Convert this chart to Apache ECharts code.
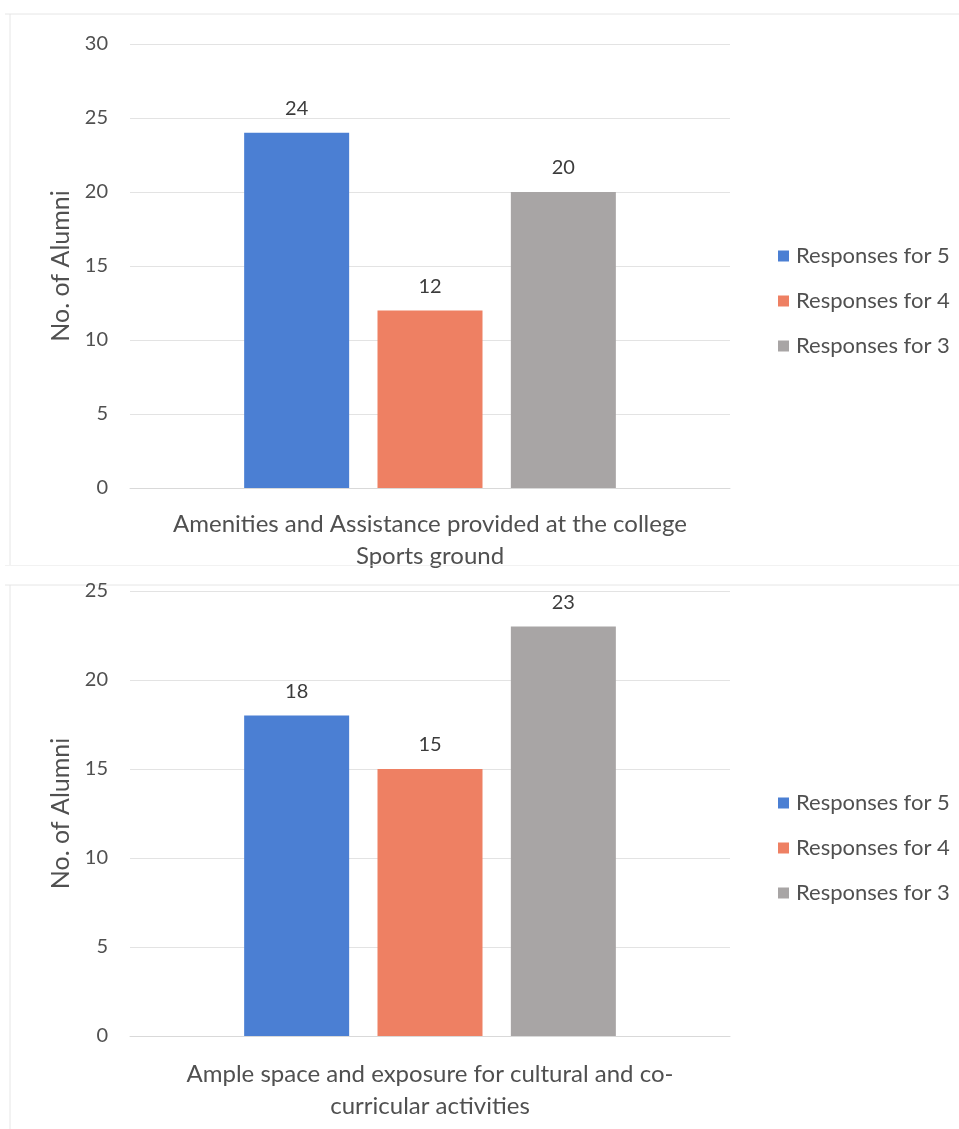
<!DOCTYPE html>
<html><head><meta charset="utf-8">
<script src="https://cdn.jsdelivr.net/npm/echarts@6/dist/echarts.min.js"></script>
<style>html,body{margin:0;padding:0;background:#fff;}#c1{position:absolute;left:0;top:0;width:959px;height:580px;}#c2{position:absolute;left:0;top:565px;width:959px;height:564px;}</style>
</head><body>
<div id="c1"></div><div id="c2"></div>
<script>
const seriesNames = ['Responses for 5', 'Responses for 4', 'Responses for 3'];
const colors = ['#4b7fd3', '#ee8063', '#a8a5a5'];
const chart1Category = ['Amenities and Assistance provided at the college\nSports ground'];
const chart1Values = [24, 12, 20];
const chart1Ticks = { min: 0, max: 30, interval: 5 };
const chart2Category = ['Ample space and exposure for cultural and co-\ncurricular activities'];
const chart2Values = [18, 15, 23];
const chart2Ticks = { min: 0, max: 25, interval: 5 };
const yName = 'No. of Alumni';
const font = 'Lato, "Open Sans", sans-serif';

function build(category, values, ticks, grid, legendTop, labelMargin, lines) {
  grid.outerBoundsMode = 'none';
  grid.containLabel = false;
  return {
    animation: false,
    textStyle: { fontFamily: font },
    grid: grid,
    legend: {
      orient: 'vertical', left: 773, top: legendTop,
      itemWidth: 11, itemHeight: 11, itemGap: 23,
      icon: 'rect',
      textStyle: { color: '#505050', fontSize: 22, fontFamily: font, padding: [0, 0, 0, 2] },
      data: seriesNames
    },
    xAxis: {
      type: 'category', data: category,
      axisLine: { show: true, lineStyle: { color: '#d9d9d9' } },
      axisTick: { show: false },
      axisLabel: { color: '#505050', fontSize: 24, lineHeight: 32, margin: labelMargin, fontFamily: font }
    },
    yAxis: {
      type: 'value', min: ticks.min, max: ticks.max, interval: ticks.interval,
      name: yName, nameLocation: 'middle', nameRotate: 90, nameGap: 52,
      nameTextStyle: { color: '#505050', fontSize: 25, fontFamily: font },
      axisLine: { show: false }, axisTick: { show: false },
      axisLabel: { color: '#505050', fontSize: 20, margin: 22, fontFamily: font },
      splitLine: { lineStyle: { color: '#e3e3e3' } }
    },
    graphic: lines.map(function (l) {
      return { type: 'line', shape: l, style: { stroke: '#e6e6e6', lineWidth: 1 }, silent: true };
    }),
    series: seriesNames.map(function (n, i) {
      return {
        name: n, type: 'bar', data: [values[i]],
        barWidth: 105, barGap: '27%',
        itemStyle: { color: colors[i] },
        label: { show: true, position: 'top', distance: 14, color: '#3c3c3c', fontSize: 20, fontFamily: font }
      };
    })
  };
}

const c1 = echarts.init(document.getElementById('c1'));
c1.setOption(build(chart1Category, chart1Values, chart1Ticks,
  { left: 130, right: 229, top: 44, bottom: 92 }, 240, 20,
  [{ x1: 5, y1: 14, x2: 959, y2: 14 }, { x1: 10, y1: 14, x2: 10, y2: 565 }]));

const c2 = echarts.init(document.getElementById('c2'));
c2.setOption(build(chart2Category, chart2Values, chart2Ticks,
  { left: 130, right: 229, top: 26, bottom: 93 }, 222, 22,
  [{ x1: 5, y1: 0, x2: 959, y2: 0 }, { x1: 5, y1: 20, x2: 959, y2: 20 }, { x1: 10, y1: 20, x2: 10, y2: 564 }]));
</script>
</body></html>
